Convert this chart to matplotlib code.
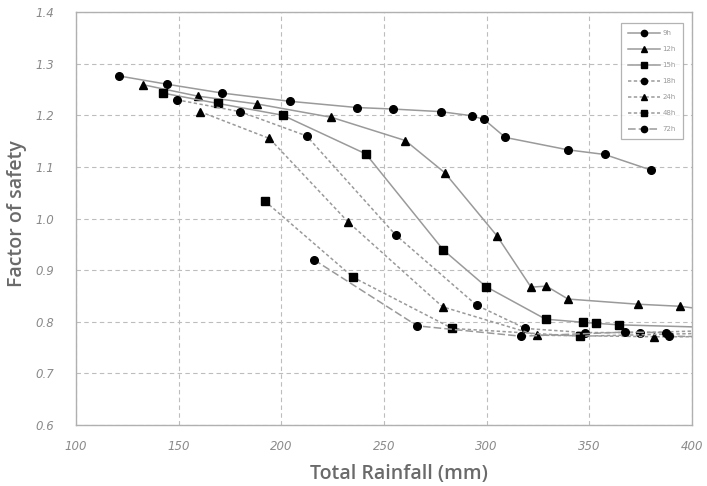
import matplotlib
matplotlib.use("Agg")
import matplotlib.pyplot as plt

labels = ["9h", "12h", "15h", "18h", "24h", "48h", "72h"]

x_9h = [121.1, 144.5, 171.1, 204.2, 236.7, 254.5, 277.6, 292.7, 298.7, 309.1, 339.6, 357.5, 379.9]
y_9h = [1.276, 1.260, 1.243, 1.227, 1.215, 1.212, 1.207, 1.199, 1.192, 1.157, 1.133, 1.124, 1.094]

x_12h = [132.8, 159.3, 188.0, 224.4, 260.4, 279.5, 304.9, 321.6, 329.1, 339.6, 373.5, 394.0, 410.0]
y_12h = [1.259, 1.237, 1.222, 1.196, 1.151, 1.089, 0.967, 0.867, 0.869, 0.844, 0.834, 0.830, 0.822]

x_15h = [142.2, 169.0, 200.7, 241.2, 278.9, 299.7, 328.7, 346.8, 353.1, 364.5, 410.0]
y_15h = [1.243, 1.223, 1.200, 1.125, 0.939, 0.868, 0.805, 0.799, 0.797, 0.794, 0.789]

x_18h = [149.0, 179.9, 212.3, 255.7, 295.1, 318.8, 347.9, 374.8, 410.0]
y_18h = [1.230, 1.207, 1.160, 0.968, 0.832, 0.787, 0.779, 0.779, 0.783]

x_24h = [160.4, 194.2, 232.6, 278.5, 324.4, 381.6, 410.0]
y_24h = [1.207, 1.155, 0.993, 0.829, 0.774, 0.771, 0.771]

x_48h = [191.9, 235.0, 283.3, 345.5, 410.0]
y_48h = [1.034, 0.886, 0.787, 0.772, 0.778]

x_72h = [215.9, 266.2, 316.7, 367.5, 387.2, 389.0, 410.0]
y_72h = [0.920, 0.792, 0.772, 0.780, 0.779, 0.772, 0.771]

xs = [x_9h, x_12h, x_15h, x_18h, x_24h, x_48h, x_72h]
ys = [y_9h, y_12h, y_15h, y_18h, y_24h, y_48h, y_72h]
markers = ["o", "^", "s", "o", "^", "s", "o"]
styles = ["-", "-", "-", (0, (2.2, 1.6)), (0, (2.2, 1.6)), (0, (2.2, 1.6)), (0, (5, 2))]
msizes = [5.5, 5.5, 6, 5.5, 5.5, 6, 5.5]

x_ticks = [100, 150, 200, 250, 300, 350, 400]
y_ticks = [0.6, 0.7, 0.8, 0.9, 1.0, 1.1, 1.2, 1.3, 1.4]

fig = plt.figure(figsize=(7.07, 4.86), dpi=100)
ax = fig.add_axes([76 / 707, 1 - 425 / 486, 616 / 707, 413 / 486])

for xv, yv, lab, m, ls, ms in zip(xs, ys, labels, markers, styles, msizes):
    ax.plot(xv, yv, linestyle=ls, color="#9a9a9a", linewidth=1.1,
            marker=m, markersize=ms, markerfacecolor="black",
            markeredgecolor="black", label=lab, clip_on=True)

ax.set_xlim(100, 400)
ax.set_ylim(0.6, 1.4)
ax.set_xticks(x_ticks)
ax.set_yticks(y_ticks)
ax.set_xticklabels([str(t) for t in x_ticks])
ax.set_yticklabels([f"{t:.1f}" for t in y_ticks])
ax.tick_params(length=0, labelsize=8.5, labelcolor="#8a8a8a")
ax.tick_params(axis="y", pad=16)
ax.tick_params(axis="x", pad=11)
for t in ax.get_xticklabels() + ax.get_yticklabels():
    t.set_fontstyle("italic")

ax.grid(True, linestyle=(0, (4, 3)), color="#bdbdbd", linewidth=0.8)
ax.set_axisbelow(True)
for s in ax.spines.values():
    s.set_color("#b0b0b0")
    s.set_linewidth(1.0)

fig.text(17 / 707, 1 - 214 / 486, "Factor of safety", rotation=90,
         fontsize=14, fontweight="semibold", color="#6a6a6a",
         family="Open Sans", ha="center", va="center")
fig.text(399 / 707, 2 / 486, "Total Rainfall (mm)",
         fontsize=14, fontweight="semibold", color="#6a6a6a",
         family="Open Sans", ha="center", va="bottom")

leg = ax.legend(loc="upper right", bbox_to_anchor=(683 / 707, 1 - 23 / 486),
                bbox_transform=fig.transFigure, fontsize=5, frameon=True,
                fancybox=False, handlelength=4.6, labelspacing=1.45,
                borderpad=1.0, handletextpad=0.4, borderaxespad=0)
leg.get_frame().set_edgecolor("#a0a0a0")
leg.get_frame().set_linewidth(0.9)
for t in leg.get_texts():
    t.set_color("#9a9a9a")
for h in leg.legend_handles:
    h.set_markersize(4.5)

fig.savefig("out.png", dpi=100)
